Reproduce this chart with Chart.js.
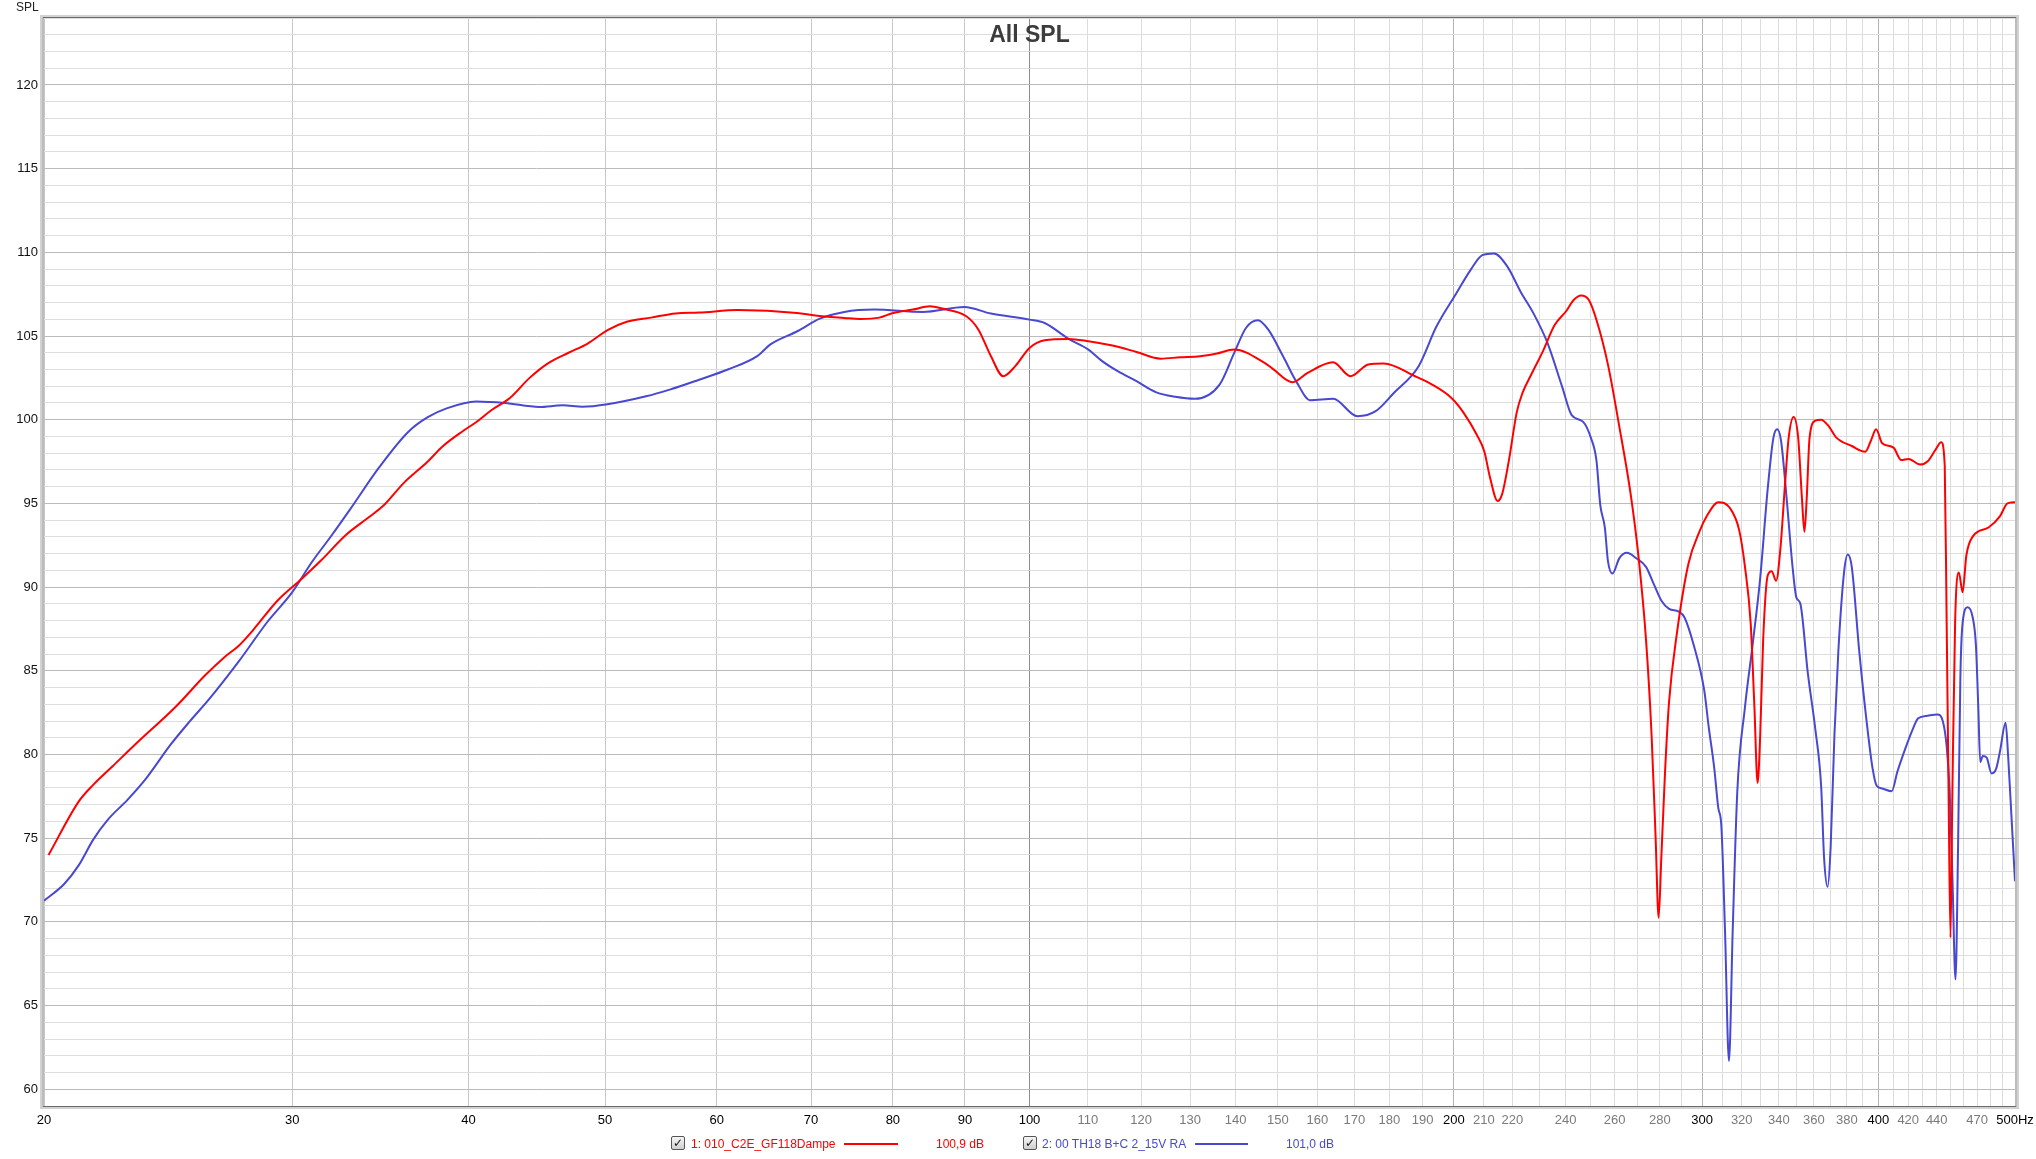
<!DOCTYPE html>
<html><head><meta charset="utf-8">
<script src="https://cdn.jsdelivr.net/npm/chart.js@4.4.1/dist/chart.umd.min.js"></script>
<style>
html,body{margin:0;padding:0;background:#fff;}
#wrap{position:relative;width:2036px;height:1159px;overflow:hidden;}
canvas{position:absolute;left:0;top:0;}
.t{position:absolute;font:12px "Liberation Sans",Arial,sans-serif;white-space:nowrap;line-height:14px;}
.cb{position:absolute;top:1136px;width:12px;height:12px;border:1px solid #555;background:linear-gradient(#f6f6f6,#cfcfcf);border-radius:2px;font:bold 12px "DejaVu Sans",sans-serif;line-height:12px;text-align:center;color:#111;}
.ln{position:absolute;top:1143px;height:2px;}
</style></head>
<body>
<div id="wrap">
<canvas id="c" width="2036" height="1159"></canvas>
<div class="t" style="left:16px;top:0px;color:#222;">SPL</div>
<div class="cb" style="left:671px;">✓</div>
<div class="t" style="left:691px;top:1137px;color:#ff0000;">1: 010_C2E_GF118Dampe</div>
<div class="ln" style="left:844px;width:54px;background:#ff0000;"></div>
<div class="t" style="left:936px;top:1137px;color:#ff0000;">100,9 dB</div>
<div class="cb" style="left:1023px;">✓</div>
<div class="t" style="left:1042px;top:1137px;color:#4848d0;">2: 00 TH18 B+C 2_15V RA</div>
<div class="ln" style="left:1195px;width:53px;background:#4848d0;"></div>
<div class="t" style="left:1286px;top:1137px;color:#4848d0;">101,0 dB</div>
</div>
<script>
const redFreq = [20.15,21.17,21.68,22.37,23.28,24.8,26.0,26.84,27.49,28.15,29.29,30.47,31.45,32.73,34.03,34.85,35.97,37.43,38.34,39.6,40.5,41.5,42.8,44.2,45.6,47.1,48.6,50.2,51.8,53.9,56.1,58.3,62.1,68.4,70.5,73.9,75.8,78.25,80.05,82.65,85.0,86.7,90.2,92.0,93.9,95.8,97.7,100,102.5,106.6,110.1,114.5,119.1,123.9,127.9,132.1,135.8,139.7,146.6,148.8,153.7,157.5,164.2,168.9,173.9,178.3,188.1,193,199.2,203.1,207.6,210.2,212.1,214.8,216.4,218.8,221.6,223.7,227.2,231.4,235.7,240.2,243.2,246.2,249.3,252.4,257.2,262,266.9,270.3,273.7,276.2,278,279.4,280.6,282.4,284.2,287.8,293.3,298.9,302.2,308,313.8,318.7,321.7,324.7,326.7,328.4,329.8,331.4,333.9,336,338.5,340.8,343.4,345.5,348.3,350.9,353.1,354.5,355.8,357.5,360.9,364.3,368.9,373.5,383,391.5,395.2,398.5,402.5,410,415.2,420.3,428.2,433.6,439,443.2,445.8,447.2,448.6,450,451.4,453.4,456.2,459,461.8,467,478.8,487.8,493.9,500];
const redSPL = [74.0,77.2,78.2,79.3,80.7,82.85,84.7,85.8,86.5,87.45,89.2,90.5,91.6,93.1,94.2,94.9,96.2,97.5,98.4,99.3,99.85,100.55,101.3,102.5,103.4,104.0,104.55,105.35,105.85,106.1,106.35,106.4,106.55,106.38,106.22,106.08,106.02,106.1,106.38,106.58,106.78,106.64,106.18,105.38,103.79,102.6,103.2,104.29,104.75,104.83,104.69,104.43,104.05,103.65,103.73,103.79,103.95,104.19,103.43,103.04,102.24,102.8,103.43,102.6,103.3,103.36,102.56,102.1,101.3,100.44,99.1,98.09,96.58,95.14,95.57,97.59,100.44,101.6,102.79,104.13,105.64,106.48,107.15,107.42,107.15,105.97,103.29,99.6,95.57,91.89,86.85,81.15,75.11,70.25,73.78,79.14,83.16,87.19,91.38,93.39,94.23,95.07,94.74,93.39,91.21,87.86,82.83,78.3,81.15,86.85,90.71,90.95,90.38,92.22,96.08,98.93,100.17,98.93,95.24,93.3,95.24,98.93,99.94,100.0,99.6,98.93,98.43,98.09,98.76,99.43,98.6,98.33,97.59,97.66,97.32,97.52,98.19,98.66,97.25,87.86,77.8,69.07,77.8,87.86,90.88,89.7,91.89,93.06,93.56,94.23,95.0,95.07];
const blueFreq = [20.0,20.67,21.17,21.68,22.2,22.92,23.64,24.6,25.4,26.2,27.49,28.81,30.0,30.96,31.94,32.98,34.57,36.25,37.43,38.64,40.5,42.47,44.9,46.67,48.19,50.2,53.46,55.57,58.3,61.1,64.1,65.5,68.5,71.0,73.9,77.6,84.0,89.9,93.9,100,102.5,106.6,110.1,112.6,115.5,119.1,122.9,126.9,131.0,136.4,139.7,142.4,145.2,147.7,151.3,154.8,158.1,164.2,170.8,176,181.3,188.8,194.4,200.6,205.7,209.5,213.5,218.2,223,227.9,232.9,238.7,242.4,247,250.1,252.4,254,255.9,257.2,259.1,262,265.3,269.4,273.7,277.1,280.6,284.2,288.7,291.4,295.9,301,303.2,306,308,309.5,311.4,313.4,315.3,317.7,321.7,325.7,329.8,333.9,337,339.1,341.2,344.4,347.7,349.9,352.1,356.5,360.9,364.3,366.1,368.2,370,372.3,374.7,378.2,380.5,383,387.7,392.6,396.3,398.9,402.5,408.8,412.6,417.8,423,426.9,433.6,440.4,444.4,447.2,449.4,451.4,453.7,455.6,457.3,459,462.8,466.6,469.1,470.9,472.4,474.4,477.4,481.2,484.8,487.8,492.4,494.5,497,500];
const blueSPL = [71.26,72.26,73.39,74.93,76.11,77.29,78.59,80.6,82.02,83.32,85.56,87.93,89.7,91.47,93.01,94.66,97.15,99.27,100.15,100.69,101.09,101.0,100.76,100.86,100.78,100.93,101.4,101.8,102.39,103.0,103.8,104.5,105.3,106.04,106.44,106.58,106.44,106.74,106.34,105.98,105.78,104.83,104.19,103.5,102.9,102.3,101.65,101.37,101.25,102.1,103.99,105.48,105.94,105.38,103.79,102.2,101.17,101.25,100.21,100.51,101.6,103.2,105.58,107.5,109.0,109.83,109.93,109.16,107.65,106.31,104.63,101.95,100.27,99.87,98.93,97.59,94.9,93.56,91.55,90.81,91.72,92.05,91.72,91.21,90.21,89.2,88.7,88.53,88.2,86.52,83.83,81.65,79.14,76.79,75.78,69.41,61.69,69.41,77.8,82.83,86.52,90.54,95.91,98.93,99.43,98.76,95.24,91.21,89.37,89.03,84.84,81.49,78.13,73.77,72.09,74.44,81.15,86.18,90.88,91.95,91.21,86.18,81.82,79.14,78.13,77.97,77.8,78.97,80.31,81.49,82.16,82.32,82.39,81.99,80.48,77.8,72.76,66.56,74.44,84.5,87.86,88.8,88.2,86.52,82.83,79.54,79.91,79.81,78.87,79.14,80.15,81.89,79.81,76.45,72.43];

const xTickValues = [20,30,40,50,60,70,80,90,100,110,120,130,140,150,160,170,180,190,200,210,220,230,240,250,260,270,280,290,300,310,320,330,340,350,360,370,380,390,400,410,420,430,440,450,460,470,480,490,500];
const xLabelsMajor = [20,30,40,50,60,70,80,90,100,200,300,400];
const xLabelsMinor = [110,120,130,140,150,160,170,180,190,210,220,240,260,280,320,340,360,380,420,440,470];
const yLabels = [60,65,70,75,80,85,90,95,100,105,110,115,120];

const toPts = (f, s) => f.map((v, i) => ({x: v, y: s[i]}));

const framePlugin = {
  id: 'frame',
  afterDraw(chart) {
    const {ctx} = chart; const a = chart.chartArea;
    ctx.save();
    ctx.fillStyle = '#d2d2d2';
    ctx.fillRect(a.left - 4, a.top - 3, a.right - a.left + 8, 3);
    ctx.fillRect(a.left - 4, a.bottom, a.right - a.left + 8, 3);
    ctx.fillRect(a.left - 4, a.top - 3, 4, a.bottom - a.top + 6);
    ctx.fillRect(a.right, a.top - 3, 4, a.bottom - a.top + 6);
    ctx.fillStyle = '#bcbcbc';
    ctx.fillRect(a.left - 2, a.top - 1, 2, a.bottom - a.top + 2);
    ctx.fillRect(a.right, a.top - 1, 2, a.bottom - a.top + 2);
    ctx.fillStyle = '#6a6a6a';
    ctx.fillRect(a.left - 1, a.top - 1, a.right - a.left + 2, 1);
    ctx.fillRect(a.left - 1, a.bottom, a.right - a.left + 2, 1);
    ctx.restore();
  }
};
const titlePlugin = {
  id: 'ttl',
  beforeDatasetsDraw(chart) {
    const {ctx} = chart; const a = chart.chartArea;
    ctx.save();
    ctx.font = 'bold 23px "Liberation Sans", Arial, sans-serif';
    ctx.fillStyle = '#3c3c3c';
    ctx.textAlign = 'center';
    ctx.textBaseline = 'alphabetic';
    ctx.fillText('All SPL', (a.left + a.right) / 2, 42);
    ctx.restore();
  }
};

new Chart(document.getElementById('c'), {
  type: 'line',
  data: {
    datasets: [
      {label: '1: 010_C2E_GF118Dampe', data: toPts(redFreq, redSPL), borderColor: '#ff0000', borderWidth: 2, pointRadius: 0, cubicInterpolationMode: 'monotone', fill: false},
      {label: '2: 00 TH18 B+C 2_15V RA', data: toPts(blueFreq, blueSPL), borderColor: '#4848d0', borderWidth: 2, pointRadius: 0, cubicInterpolationMode: 'monotone', fill: false}
    ]
  },
  options: {
    responsive: false, animation: false, devicePixelRatio: 1,
    layout: {padding: {left: 0, right: 21, top: 18, bottom: 0}},
    plugins: {legend: {display: false}, tooltip: {enabled: false}, title: {display: false}},
    scales: {
      x: {
        type: 'logarithmic', min: 20, max: 500,
        afterBuildTicks: s => { s.ticks = xTickValues.map(v => ({value: v})); },
        afterFit: s => { s.height = 53; s.paddingLeft = 0; s.paddingRight = 0; },
        grid: {drawTicks: false, lineWidth: 1, color: c => {
          const v = c.tick ? c.tick.value : 0;
          if (v === 100) return '#8c8c8c';
          if (v === 200 || v === 300 || v === 400) return '#b4b4b4';
          if (v < 100) return '#c6c6c6';
          return '#dcdcdc';
        }},
        border: {display: false},
        ticks: {
          autoSkip: false, maxRotation: 0, minRotation: 0, padding: 7,
          font: {family: '"Liberation Sans Narrow", "Liberation Sans", Arial, sans-serif', size: 13},
          color: c => (c.tick && xLabelsMinor.includes(c.tick.value)) ? '#7a7a7a' : '#000000',
          callback: v => v === 500 ? '500Hz' : (xLabelsMajor.includes(v) || xLabelsMinor.includes(v) ? String(v) : '')
        }
      },
      y: {
        type: 'linear', min: 59, max: 124,
        afterFit: s => { s.width = 44; s.paddingTop = 0; s.paddingBottom = 0; },
        grid: {drawTicks: false, lineWidth: 1, color: c => (c.tick && c.tick.value % 5 === 0) ? '#bcbcbc' : '#dedede'},
        border: {display: false},
        ticks: {
          stepSize: 1, autoSkip: false, padding: 6,
          font: {family: '"Liberation Sans", Arial, sans-serif', size: 13},
          color: '#111111',
          callback: v => yLabels.includes(v) ? String(v) : ''
        }
      }
    }
  },
  plugins: [framePlugin, titlePlugin]
});
</script>
</body></html>
